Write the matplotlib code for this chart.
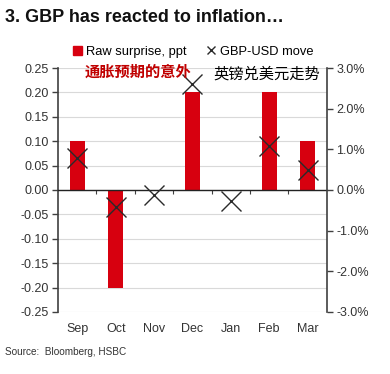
import matplotlib.pyplot as plt
import numpy as np
from matplotlib.transforms import blended_transform_factory

plt.rcParams['font.family'] = ['Liberation Sans', 'DejaVu Sans']

months = ['Sep', 'Oct', 'Nov', 'Dec', 'Jan', 'Feb', 'Mar']
raw_surprise = [0.10, -0.20, 0.0, 0.20, 0.0, 0.20, 0.10]
gbp_usd_move = [0.79, -0.42, -0.12, 2.6, -0.27, 1.08, 0.5]
left_ticks = [-0.25, -0.20, -0.15, -0.10, -0.05, 0.0, 0.05, 0.10, 0.15, 0.20, 0.25]
right_ticks = [-3.0, -2.0, -1.0, 0.0, 1.0, 2.0, 3.0]

red = '#d7000f'
axis_col = '#404040'

fig = plt.figure(figsize=(3.9, 3.74), dpi=100)
ax = fig.add_axes([0.149, 0.166, 0.689, 0.652])
x = np.arange(len(months))

# gridlines
for t in left_ticks:
    ax.axhline(t, color='#d9d9d9', lw=0.8, zorder=0)

ax.bar(x, raw_surprise, width=0.4, color=red, zorder=2)
ax.set_xlim(-0.5, len(months) - 0.5)
ax.set_ylim(-0.25, 0.25)
ax.set_yticks(left_ticks)
ax.set_yticklabels(['%.2f' % t for t in left_ticks], fontsize=9, color='#333333')
ax.tick_params(axis='y', direction='out', length=4, width=1, color=axis_col, pad=3)

for s in ['top', 'right']:
    ax.spines[s].set_visible(False)
ax.spines['left'].set_color(axis_col)
ax.spines['left'].set_linewidth(1.2)
ax.spines['bottom'].set_position(('data', 0))
ax.spines['bottom'].set_color('#222222')
ax.spines['bottom'].set_linewidth(1.0)
ax.set_xticks(x)
ax.set_xticklabels([])
ax.tick_params(axis='x', which='major', length=0)
ax.set_xticks(np.arange(len(months) - 1) + 0.5, minor=True)
ax.tick_params(axis='x', which='minor', direction='out', length=3, width=0.8, color=axis_col)

trans = blended_transform_factory(ax.transData, ax.transAxes)
for xi, m in zip(x, months):
    ax.text(xi, -0.045, m, transform=trans, ha='center', va='top', fontsize=9, color='#333333')

ax2 = ax.twinx()
ax2.plot(x, gbp_usd_move, linestyle='none', marker='x', markersize=15,
         markeredgewidth=1.0, color='#2a2a2a', zorder=3)
ax2.set_ylim(-3.0, 3.0)
ax2.set_yticks(right_ticks)
ax2.set_yticklabels(['%.1f%%' % t for t in right_ticks], fontsize=9, color='#333333')
ax2.tick_params(axis='y', direction='out', length=4, width=1, color=axis_col, pad=3)
for s in ['top', 'left', 'bottom']:
    ax2.spines[s].set_visible(False)
ax2.spines['right'].set_color(axis_col)
ax2.spines['right'].set_linewidth(1.2)

# legend
h1 = plt.Rectangle((0, 0), 1, 1, color=red)
h2, = ax2.plot([], [], linestyle='none', marker='x', markersize=6, color='#2a2a2a')
fig.legend([h1, h2], ['Raw surprise, ppt', 'GBP-USD move'], ncol=2, frameon=False,
           loc='center', bbox_to_anchor=(0.495, 0.862), fontsize=9.3,
           handlelength=0.7, handletextpad=0.3, columnspacing=1.6)

# annotations
fig.text(0.218, 0.808, '通胀预期的意外', fontsize=11, color='#c00000', fontweight='bold',
         family=['Noto Sans CJK SC', 'DejaVu Sans'], va='center')
fig.text(0.546, 0.803, '英镑兑美元走势', fontsize=11, color='black', fontweight='medium',
         family=['Noto Sans CJK SC', 'DejaVu Sans'], va='center')

fig.text(0.013, 0.952, '3. GBP has reacted to inflation…', fontsize=13, fontweight='bold',
         color='#111111', va='center')
fig.text(0.013, 0.058, 'Source:  Bloomberg, HSBC', fontsize=7.2, color='#333333', va='center')

fig.savefig('out.png', dpi=100)
